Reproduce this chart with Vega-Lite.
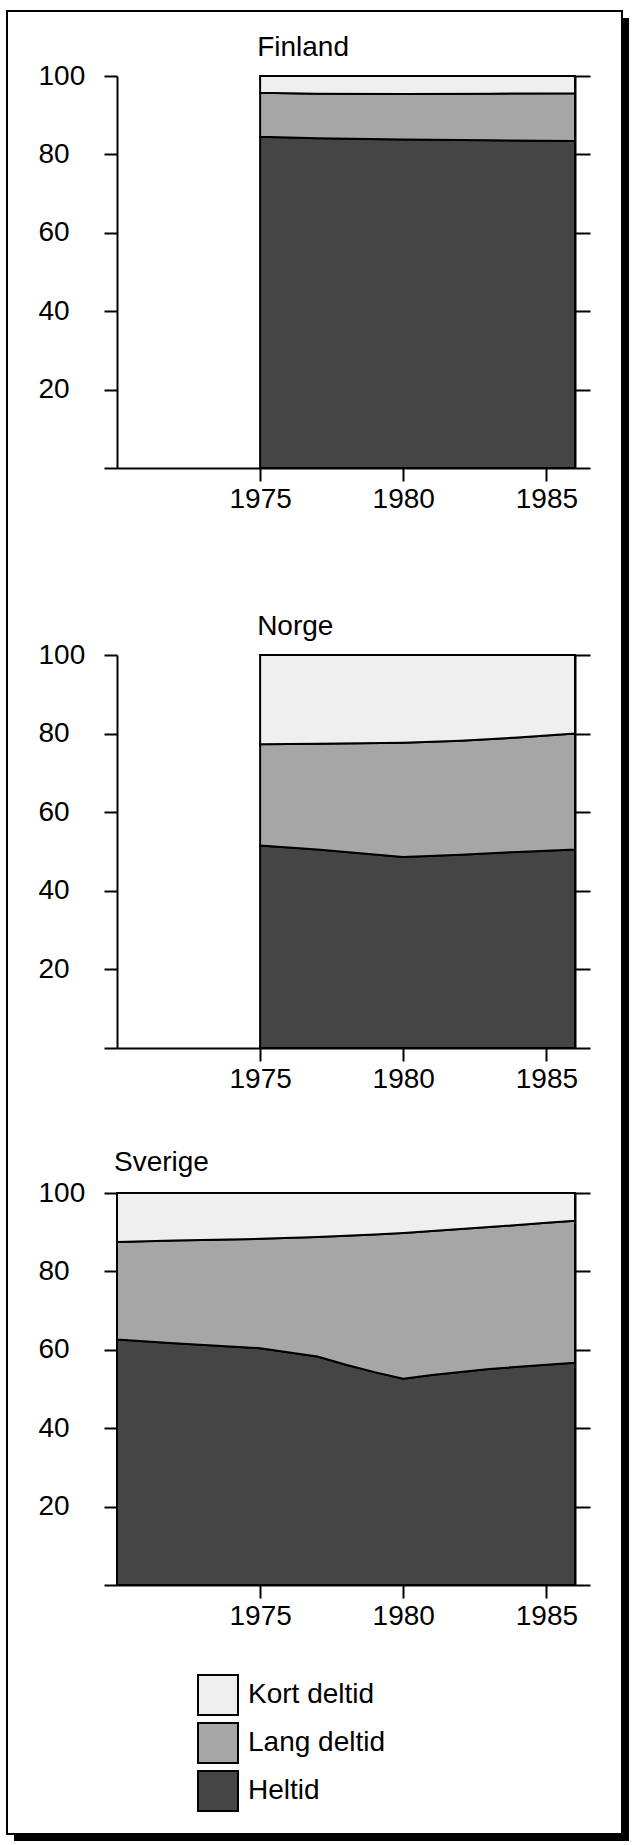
{
  "$schema": "https://vega.github.io/schema/vega-lite/v6.json",
  "padding": {"left": 5, "top": 9, "right": 5, "bottom": 5},
  "background": "white",
  "data": {"values": [
    {"land": "Finland", "ar": 1975, "Heltid": 84.5, "Lang deltid": 11.2, "Kort deltid": 4.3},
    {"land": "Finland", "ar": 1977, "Heltid": 84.1, "Lang deltid": 11.4, "Kort deltid": 4.5},
    {"land": "Finland", "ar": 1980, "Heltid": 83.8, "Lang deltid": 11.6, "Kort deltid": 4.6},
    {"land": "Finland", "ar": 1983, "Heltid": 83.6, "Lang deltid": 11.9, "Kort deltid": 4.5},
    {"land": "Finland", "ar": 1986, "Heltid": 83.4, "Lang deltid": 12.2, "Kort deltid": 4.4},
    {"land": "Norge", "ar": 1975, "Heltid": 51.5, "Lang deltid": 25.8, "Kort deltid": 22.7},
    {"land": "Norge", "ar": 1977, "Heltid": 50.5, "Lang deltid": 26.9, "Kort deltid": 22.6},
    {"land": "Norge", "ar": 1980, "Heltid": 48.6, "Lang deltid": 29.1, "Kort deltid": 22.3},
    {"land": "Norge", "ar": 1982, "Heltid": 49.2, "Lang deltid": 29.0, "Kort deltid": 21.8},
    {"land": "Norge", "ar": 1984, "Heltid": 49.9, "Lang deltid": 29.1, "Kort deltid": 21.0},
    {"land": "Norge", "ar": 1986, "Heltid": 50.5, "Lang deltid": 29.5, "Kort deltid": 20.0},
    {"land": "Sverige", "ar": 1970, "Heltid": 62.6, "Lang deltid": 24.9, "Kort deltid": 12.5},
    {"land": "Sverige", "ar": 1972, "Heltid": 61.7, "Lang deltid": 26.2, "Kort deltid": 12.1},
    {"land": "Sverige", "ar": 1975, "Heltid": 60.4, "Lang deltid": 27.9, "Kort deltid": 11.7},
    {"land": "Sverige", "ar": 1977, "Heltid": 58.3, "Lang deltid": 30.5, "Kort deltid": 11.2},
    {"land": "Sverige", "ar": 1978, "Heltid": 56.2, "Lang deltid": 32.9, "Kort deltid": 10.9},
    {"land": "Sverige", "ar": 1979, "Heltid": 54.3, "Lang deltid": 35.1, "Kort deltid": 10.6},
    {"land": "Sverige", "ar": 1980, "Heltid": 52.6, "Lang deltid": 37.2, "Kort deltid": 10.2},
    {"land": "Sverige", "ar": 1981, "Heltid": 53.6, "Lang deltid": 36.7, "Kort deltid": 9.7},
    {"land": "Sverige", "ar": 1983, "Heltid": 55.1, "Lang deltid": 36.2, "Kort deltid": 8.7},
    {"land": "Sverige", "ar": 1985, "Heltid": 56.2, "Lang deltid": 36.2, "Kort deltid": 7.6},
    {"land": "Sverige", "ar": 1986, "Heltid": 56.7, "Lang deltid": 36.2, "Kort deltid": 7.1}
  ]},
  "bounds": "flush",
  "spacing": 0,
  "vconcat": [
    {
      "width": 458,
      "height": 392,
      "layer": [
        {
          "transform": [
            {"filter": {"field": "land", "equal": "Finland"}},
            {"fold": ["Heltid", "Lang deltid", "Kort deltid"], "as": ["kategori", "andel"]},
            {"lookup": "kategori", "from": {"data": {"values": [{"kategori": "Heltid", "nr": 1}, {"kategori": "Lang deltid", "nr": 2}, {"kategori": "Kort deltid", "nr": 3}]}, "key": "kategori", "fields": ["nr"]}}
          ],
          "mark": {"type": "area", "stroke": "black", "strokeWidth": 2, "strokeJoin": "miter"},
          "encoding": {
            "x": {"field": "ar", "type": "quantitative", "scale": {"domain": [1970, 1986], "nice": false, "zero": false}, "axis": {"orient": "bottom", "values": [1975, 1980, 1985], "format": "d", "title": null, "tickSize": 13, "labelPadding": 4, "labelDx": -3, "labelFlush": false, "labelOverlap": false}},
            "y": {"field": "andel", "type": "quantitative", "stack": "zero", "scale": {"domain": [0, 100], "nice": false, "zero": false}, "axis": {"orient": "left", "values": [0, 20, 40, 60, 80, 100], "title": null, "tickSize": 13, "labelAlign": "left", "labelBaseline": "middle", "labelPadding": 66, "labelExpr": "datum.value === 0 ? '' : datum.label"}},
            "fill": {"field": "kategori", "type": "nominal", "scale": {"domain": ["Kort deltid", "Lang deltid", "Heltid"], "range": ["#efefef", "#a6a6a6", "#454545"]}, "legend": {"orient": "none", "legendX": 80, "legendY": 1598, "title": null, "symbolType": "square", "symbolSize": 1600, "symbolStrokeColor": "black", "symbolStrokeWidth": 2, "labelFontSize": 28, "labelFont": "Liberation Sans", "labelColor": "black", "labelOffset": 9, "rowPadding": 0, "padding": 0, "labelLimit": 0, "zindex": 1}},
            "order": {"field": "nr", "type": "quantitative"}
          }
        },
        {
          "data": {"values": [{}]},
          "mark": {"type": "rule", "strokeOpacity": 0},
          "encoding": {
            "y": {"datum": 0, "type": "quantitative", "scale": {"domain": [0, 100], "nice": false, "zero": false}, "axis": {"orient": "right", "values": [0, 20, 40, 60, 80, 100], "labels": false, "title": null, "tickSize": 15}}
          }
        },
        {
          "data": {"values": [{"land": "Finland", "ar": 1975}]},
          "mark": {"type": "text", "align": "left", "baseline": "alphabetic", "dx": -3, "dy": -20, "fontSize": 28, "font": "Liberation Sans", "color": "black"},
          "encoding": {
            "x": {"field": "ar", "type": "quantitative", "scale": {"domain": [1970, 1986], "nice": false, "zero": false}, "axis": {"orient": "bottom", "values": [1975, 1980, 1985], "format": "d", "title": null, "tickSize": 13, "labelPadding": 4, "labelDx": -3, "labelFlush": false, "labelOverlap": false}},
            "y": {"datum": 100, "type": "quantitative", "scale": {"domain": [0, 100], "nice": false, "zero": false}, "axis": null},
            "text": {"field": "land"}
          }
        }
      ],
      "resolve": {"axis": {"y": "independent"}}
    },
    {
      "width": 458,
      "height": 187,
      "data": {"values": [{}]},
      "layer": [
        {
          "mark": {"type": "rect", "filled": false, "stroke": "black", "strokeWidth": 2},
          "encoding": {
            "x": {"datum": 1966.157, "type": "quantitative", "scale": {"domain": [1970, 1986], "nice": false, "zero": false}, "axis": null},
            "x2": {"datum": 1987.642},
            "y": {"datum": 344.39, "type": "quantitative", "scale": {"domain": [0, 100], "nice": false, "zero": false}, "axis": null},
            "y2": {"datum": -630.48}
          }
        },
        {
          "mark": {"type": "rect", "fill": "black"},
          "encoding": {
            "x": {"datum": 1987.677, "type": "quantitative", "scale": {"domain": [1970, 1986], "nice": false, "zero": false}, "axis": null},
            "x2": {"datum": 1987.886},
            "y": {"datum": 340.64, "type": "quantitative", "scale": {"domain": [0, 100], "nice": false, "zero": false}, "axis": null},
            "y2": {"datum": -634.22}
          }
        },
        {
          "mark": {"type": "rect", "fill": "black"},
          "encoding": {
            "x": {"datum": 1966.402, "type": "quantitative", "scale": {"domain": [1970, 1986], "nice": false, "zero": false}, "axis": null},
            "x2": {"datum": 1987.886},
            "y": {"datum": -631.02, "type": "quantitative", "scale": {"domain": [0, 100], "nice": false, "zero": false}, "axis": null},
            "y2": {"datum": -634.22}
          }
        }
      ]
    },
    {
      "width": 458,
      "height": 393,
      "layer": [
        {
          "transform": [
            {"filter": {"field": "land", "equal": "Norge"}},
            {"fold": ["Heltid", "Lang deltid", "Kort deltid"], "as": ["kategori", "andel"]},
            {"lookup": "kategori", "from": {"data": {"values": [{"kategori": "Heltid", "nr": 1}, {"kategori": "Lang deltid", "nr": 2}, {"kategori": "Kort deltid", "nr": 3}]}, "key": "kategori", "fields": ["nr"]}}
          ],
          "mark": {"type": "area", "stroke": "black", "strokeWidth": 2, "strokeJoin": "miter"},
          "encoding": {
            "x": {"field": "ar", "type": "quantitative", "scale": {"domain": [1970, 1986], "nice": false, "zero": false}, "axis": {"orient": "bottom", "values": [1975, 1980, 1985], "format": "d", "title": null, "tickSize": 13, "labelPadding": 4, "labelDx": -3, "labelFlush": false, "labelOverlap": false}},
            "y": {"field": "andel", "type": "quantitative", "stack": "zero", "scale": {"domain": [0, 100], "nice": false, "zero": false}, "axis": {"orient": "left", "values": [0, 20, 40, 60, 80, 100], "title": null, "tickSize": 13, "labelAlign": "left", "labelBaseline": "middle", "labelPadding": 66, "labelExpr": "datum.value === 0 ? '' : datum.label"}},
            "fill": {"field": "kategori", "type": "nominal", "scale": {"domain": ["Kort deltid", "Lang deltid", "Heltid"], "range": ["#efefef", "#a6a6a6", "#454545"]}, "legend": {"orient": "none", "legendX": 80, "legendY": 1598, "title": null, "symbolType": "square", "symbolSize": 1600, "symbolStrokeColor": "black", "symbolStrokeWidth": 2, "labelFontSize": 28, "labelFont": "Liberation Sans", "labelColor": "black", "labelOffset": 9, "rowPadding": 0, "padding": 0, "labelLimit": 0, "zindex": 1}},
            "order": {"field": "nr", "type": "quantitative"}
          }
        },
        {
          "data": {"values": [{}]},
          "mark": {"type": "rule", "strokeOpacity": 0},
          "encoding": {
            "y": {"datum": 0, "type": "quantitative", "scale": {"domain": [0, 100], "nice": false, "zero": false}, "axis": {"orient": "right", "values": [0, 20, 40, 60, 80, 100], "labels": false, "title": null, "tickSize": 15}}
          }
        },
        {
          "data": {"values": [{"land": "Norge", "ar": 1975}]},
          "mark": {"type": "text", "align": "left", "baseline": "alphabetic", "dx": -3, "dy": -20, "fontSize": 28, "font": "Liberation Sans", "color": "black"},
          "encoding": {
            "x": {"field": "ar", "type": "quantitative", "scale": {"domain": [1970, 1986], "nice": false, "zero": false}, "axis": {"orient": "bottom", "values": [1975, 1980, 1985], "format": "d", "title": null, "tickSize": 13, "labelPadding": 4, "labelDx": -3, "labelFlush": false, "labelOverlap": false}},
            "y": {"datum": 100, "type": "quantitative", "scale": {"domain": [0, 100], "nice": false, "zero": false}, "axis": null},
            "text": {"field": "land"}
          }
        }
      ],
      "resolve": {"axis": {"y": "independent"}}
    },
    {
      "width": 458,
      "height": 145,
      "data": {"values": []},
      "mark": {"type": "point", "opacity": 0}
    },
    {
      "width": 458,
      "height": 392,
      "layer": [
        {
          "transform": [
            {"filter": {"field": "land", "equal": "Sverige"}},
            {"fold": ["Heltid", "Lang deltid", "Kort deltid"], "as": ["kategori", "andel"]},
            {"lookup": "kategori", "from": {"data": {"values": [{"kategori": "Heltid", "nr": 1}, {"kategori": "Lang deltid", "nr": 2}, {"kategori": "Kort deltid", "nr": 3}]}, "key": "kategori", "fields": ["nr"]}}
          ],
          "mark": {"type": "area", "stroke": "black", "strokeWidth": 2, "strokeJoin": "miter"},
          "encoding": {
            "x": {"field": "ar", "type": "quantitative", "scale": {"domain": [1970, 1986], "nice": false, "zero": false}, "axis": {"orient": "bottom", "values": [1975, 1980, 1985], "format": "d", "title": null, "tickSize": 13, "labelPadding": 4, "labelDx": -3, "labelFlush": false, "labelOverlap": false}},
            "y": {"field": "andel", "type": "quantitative", "stack": "zero", "scale": {"domain": [0, 100], "nice": false, "zero": false}, "axis": {"orient": "left", "values": [0, 20, 40, 60, 80, 100], "title": null, "tickSize": 13, "labelAlign": "left", "labelBaseline": "middle", "labelPadding": 66, "labelExpr": "datum.value === 0 ? '' : datum.label"}},
            "fill": {"field": "kategori", "type": "nominal", "scale": {"domain": ["Kort deltid", "Lang deltid", "Heltid"], "range": ["#efefef", "#a6a6a6", "#454545"]}, "legend": {"orient": "none", "legendX": 80, "legendY": 1598, "title": null, "symbolType": "square", "symbolSize": 1600, "symbolStrokeColor": "black", "symbolStrokeWidth": 2, "labelFontSize": 28, "labelFont": "Liberation Sans", "labelColor": "black", "labelOffset": 9, "rowPadding": 0, "padding": 0, "labelLimit": 0, "zindex": 1}},
            "order": {"field": "nr", "type": "quantitative"}
          }
        },
        {
          "data": {"values": [{}]},
          "mark": {"type": "rule", "strokeOpacity": 0},
          "encoding": {
            "y": {"datum": 0, "type": "quantitative", "scale": {"domain": [0, 100], "nice": false, "zero": false}, "axis": {"orient": "right", "values": [0, 20, 40, 60, 80, 100], "labels": false, "title": null, "tickSize": 15}}
          }
        },
        {
          "data": {"values": [{"land": "Sverige", "ar": 1970}]},
          "mark": {"type": "text", "align": "left", "baseline": "alphabetic", "dx": -3, "dy": -22, "fontSize": 28, "font": "Liberation Sans", "color": "black"},
          "encoding": {
            "x": {"field": "ar", "type": "quantitative", "scale": {"domain": [1970, 1986], "nice": false, "zero": false}, "axis": {"orient": "bottom", "values": [1975, 1980, 1985], "format": "d", "title": null, "tickSize": 13, "labelPadding": 4, "labelDx": -3, "labelFlush": false, "labelOverlap": false}},
            "y": {"datum": 100, "type": "quantitative", "scale": {"domain": [0, 100], "nice": false, "zero": false}, "axis": null},
            "text": {"field": "land"}
          }
        }
      ],
      "resolve": {"axis": {"y": "independent"}}
    }
  ],
  "config": {
    "view": {"stroke": null},
    "font": "Liberation Sans",
    "axis": {"domainColor": "black", "domainWidth": 2, "tickColor": "black", "tickWidth": 2, "labelColor": "black", "labelFont": "Liberation Sans", "labelFontSize": 28, "grid": false, "zindex": 1}
  }
}
